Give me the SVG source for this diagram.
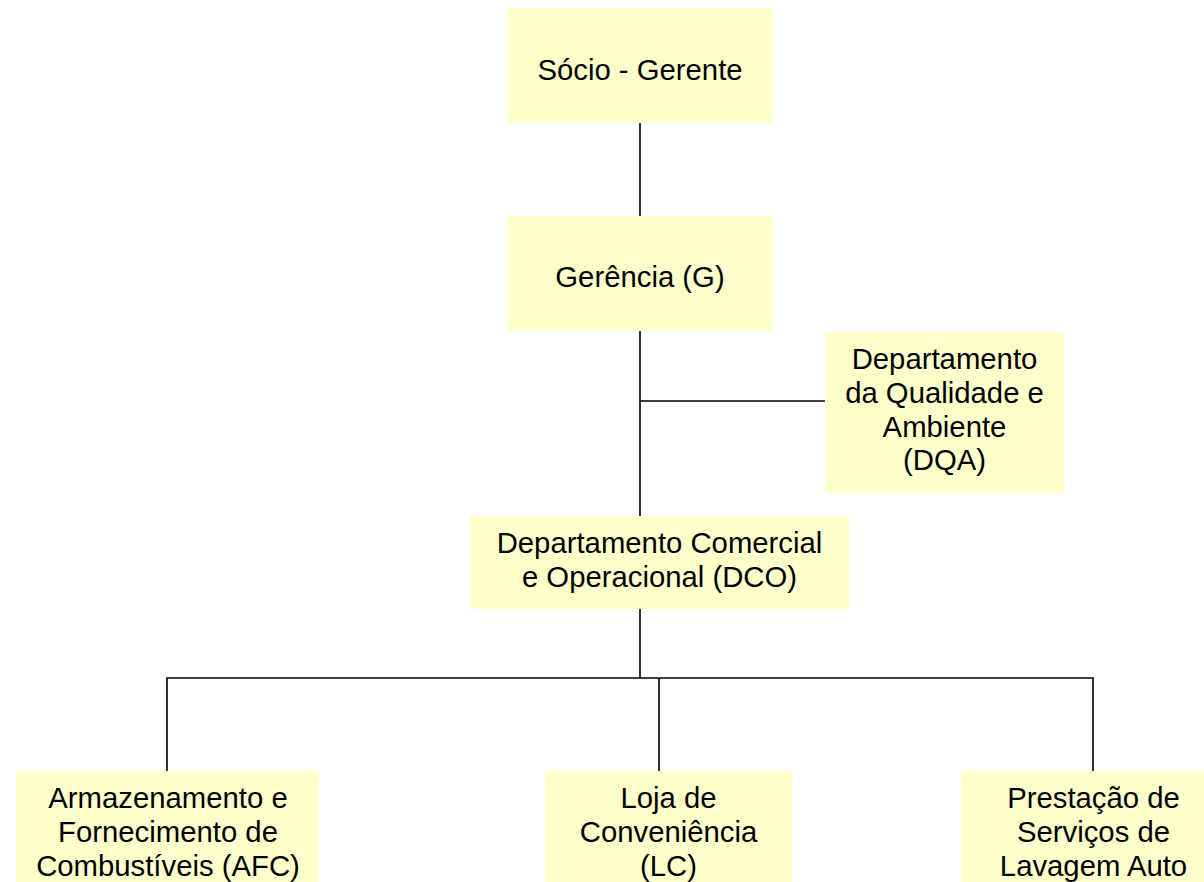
<svg xmlns="http://www.w3.org/2000/svg" width="1204" height="882" viewBox="0 0 1204 882">
<style>
.box{fill:#FFFFCC;stroke:none}
.t{font-family:"Liberation Sans",Arial,sans-serif;font-size:29.3px;fill:#000;text-anchor:middle}
.c{stroke:#000;stroke-width:1.6;fill:none}
</style>
<rect width="1204" height="882" fill="#fff"/>
<g id="connectors">
<line class="c" x1="640" y1="123" x2="640" y2="216"/>
<line class="c" x1="640" y1="331" x2="640" y2="516"/>
<line class="c" x1="640" y1="401" x2="825" y2="401"/>
<line class="c" x1="640" y1="609" x2="640" y2="678"/>
<polyline class="c" points="167,771 167,678 1093,678 1093,771"/>
<line class="c" x1="659" y1="678" x2="659" y2="771"/>
</g>
<g id="socio-gerente">
<rect class="box" x="507" y="8" width="266" height="115"/>
<text class="t" x="640" y="80">Sócio - Gerente</text>
</g>
<g id="gerencia">
<rect class="box" x="507" y="216" width="266" height="115"/>
<text class="t" x="640" y="287">Gerência (G)</text>
</g>
<g id="dqa">
<rect class="box" x="825" y="332" width="239" height="161"/>
<text class="t" x="944.5" y="369">Departamento</text>
<text class="t" x="944.5" y="403">da Qualidade e</text>
<text class="t" x="944.5" y="436.5">Ambiente</text>
<text class="t" x="944.5" y="470">(DQA)</text>
</g>
<g id="dco">
<rect class="box" x="470" y="516" width="379" height="93"/>
<text class="t" x="659.5" y="553">Departamento Comercial</text>
<text class="t" x="659.5" y="587">e Operacional (DCO)</text>
</g>
<g id="afc">
<rect class="box" x="16" y="771" width="303" height="120"/>
<text class="t" x="168" y="808">Armazenamento e</text>
<text class="t" x="168" y="842">Fornecimento de</text>
<text class="t" x="168" y="876">Combustíveis (AFC)</text>
</g>
<g id="lc">
<rect class="box" x="545" y="771" width="247" height="120"/>
<text class="t" x="668.5" y="808">Loja de</text>
<text class="t" x="668.5" y="842">Conveniência</text>
<text class="t" x="668.5" y="876">(LC)</text>
</g>
<g id="psla">
<rect class="box" x="961" y="771" width="243" height="120"/>
<text class="t" x="1093.5" y="808">Prestação de</text>
<text class="t" x="1093.5" y="842">Serviços de</text>
<text class="t" x="1093.5" y="876">Lavagem Auto</text>
</g>
</svg>
